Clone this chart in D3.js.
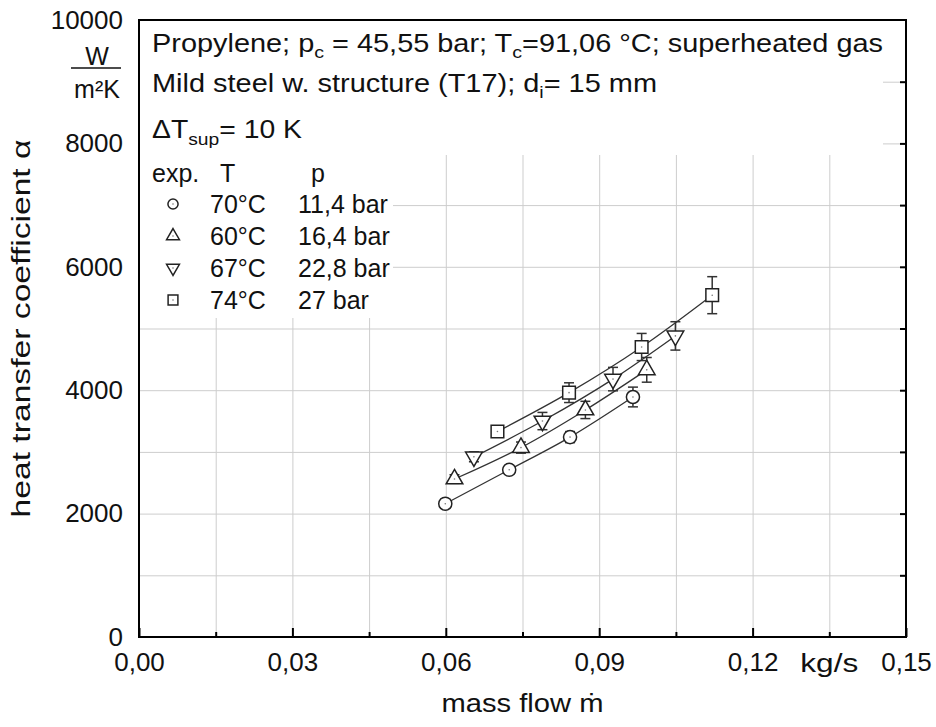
<!DOCTYPE html>
<html>
<head>
<meta charset="utf-8">
<script src="https://cdn.jsdelivr.net/npm/d3@7"></script>
<style>
  body { margin: 0; background: #fff; }
  svg { font-family: Arial, "Liberation Sans", sans-serif; }
</style>
</head>
<body>
<script>
// values
var xTicks = [0, 0.03, 0.06, 0.09, 0.12, 0.15];
var yTicks = [0, 2000, 4000, 6000, 8000, 10000];

var temps = ["70°C", "60°C", "67°C", "74°C"];
var pressures = ["11,4 bar", "16,4 bar", "22,8 bar", "27 bar"];
var symbols = ["circle", "up", "down", "square"];

var flow70 = [0.0599, 0.0724, 0.0843, 0.0966];
var alpha70 = [2160, 2710, 3240, 3890];
var err70 = [70, 70, 90, 160];

var flow60 = [0.0617, 0.0747, 0.0873, 0.0993];
var alpha60 = [2560, 3070, 3680, 4330];
var err60 = [70, 90, 140, 200];

var flow67 = [0.0655, 0.0789, 0.0927, 0.1049];
var alpha67 = [2920, 3500, 4180, 4880];
var err67 = [80, 140, 190, 230];

var flow74 = [0.0701, 0.0841, 0.0983, 0.1121];
var alpha74 = [3330, 3960, 4700, 5540];
var err74 = [90, 160, 220, 300];

var width = 936, height = 727;
var pLeft = 139, pRight = 906, pTop = 20, pBottom = 637;
var ink = "#111";

var x = d3.scaleLinear().domain([0, 0.15]).range([pLeft, pRight]);
var y = d3.scaleLinear().domain([0, 10000]).range([pBottom, pTop]);

var svg = d3.select("body").append("svg")
  .attr("width", width)
  .attr("height", height);

// grid
var xGrid = d3.range(1, 10).map(function(i) { return i * 0.015; });
var yGrid = d3.range(1, 10).map(function(i) { return i * 1000; });

svg.append("g")
  .attr("transform", "translate(0," + pBottom + ")")
  .call(d3.axisBottom(x).tickValues(xGrid).tickSize(-(pBottom - pTop)).tickFormat(""))
  .call(function(g) {
    g.select(".domain").remove();
    g.selectAll("line").attr("stroke", "#cdcdcd").attr("stroke-width", 1);
  });

svg.append("g")
  .attr("transform", "translate(" + pLeft + ",0)")
  .call(d3.axisLeft(y).tickValues(yGrid).tickSize(-(pRight - pLeft)).tickFormat(""))
  .call(function(g) {
    g.select(".domain").remove();
    g.selectAll("line").attr("stroke", "#cdcdcd").attr("stroke-width", 1);
  });

// white boxes behind the text blocks
svg.append("rect").attr("x", pLeft + 1).attr("y", pTop + 1)
  .attr("width", 743).attr("height", 134).attr("fill", "#fff");
svg.append("rect").attr("x", pLeft + 1).attr("y", 150)
  .attr("width", 253).attr("height", 168).attr("fill", "#fff");

// bottom axis, ticks inside
var fmt = function(d) { return d.toFixed(2).replace(".", ","); };
var xMinor = xGrid.filter(function(d, i) { return i % 2 == 0; });

svg.append("g")
  .attr("transform", "translate(0," + pBottom + ")")
  .call(d3.axisBottom(x).tickValues(xMinor).tickSize(-5).tickFormat(""))
  .call(function(g) {
    g.select(".domain").remove();
    g.selectAll("line").attr("stroke", "#000").attr("stroke-width", 2);
  });

var xAxis = svg.append("g")
  .attr("transform", "translate(0," + pBottom + ")")
  .call(d3.axisBottom(x).tickValues(xTicks).tickSize(-9).tickPadding(16).tickFormat(fmt));
xAxis.select(".domain").remove();
xAxis.selectAll("line").attr("stroke", "#000").attr("stroke-width", 2);
xAxis.selectAll("text").attr("font-size", 26).attr("fill", ink)
  .attr("font-family", "Arial, 'Liberation Sans', sans-serif");

// left axis labels
var yAxis = svg.append("g")
  .attr("transform", "translate(" + pLeft + ",0)")
  .call(d3.axisLeft(y).tickValues(yTicks).tickSize(0).tickPadding(16).tickFormat(d3.format("d")));
yAxis.select(".domain").remove();
yAxis.selectAll("text").attr("font-size", 26).attr("fill", ink)
  .attr("font-family", "Arial, 'Liberation Sans', sans-serif");

// right axis ticks inside
svg.append("g")
  .attr("transform", "translate(" + pRight + ",0)")
  .call(d3.axisRight(y).tickValues(yGrid).tickSize(-6).tickFormat(""))
  .call(function(g) {
    g.select(".domain").remove();
    g.selectAll("line").attr("stroke", "#000").attr("stroke-width", 2);
  });

// frame
svg.append("rect")
  .attr("x", pLeft).attr("y", pTop)
  .attr("width", pRight - pLeft).attr("height", pBottom - pTop)
  .attr("fill", "none").attr("stroke", "#000").attr("stroke-width", 2);

// unit
svg.append("text").attr("x", 97).attr("y", 65).attr("text-anchor", "middle")
  .attr("font-size", 25).attr("fill", ink).text("W");
svg.append("line").attr("x1", 71).attr("x2", 121).attr("y1", 68).attr("y2", 68)
  .attr("stroke", ink).attr("stroke-width", 1.5);
svg.append("text").attr("x", 97).attr("y", 98).attr("text-anchor", "middle")
  .attr("font-size", 25).attr("fill", ink).text("m²K");

svg.append("text").attr("x", x(0.135)).attr("y", 672).attr("text-anchor", "middle")
  .attr("font-size", 26).attr("textLength", 58).attr("lengthAdjust", "spacingAndGlyphs")
  .attr("fill", ink).text("kg/s");

// axis titles
svg.append("text").attr("x", (pLeft + pRight) / 2).attr("y", 712).attr("text-anchor", "middle")
  .attr("font-size", 25).attr("textLength", 162).attr("lengthAdjust", "spacingAndGlyphs")
  .attr("fill", ink).text("mass flow ṁ");
svg.append("text")
  .attr("transform", "translate(30," + ((pTop + pBottom) / 2) + ") rotate(-90)")
  .attr("text-anchor", "middle")
  .attr("font-size", 26).attr("textLength", 378).attr("lengthAdjust", "spacingAndGlyphs")
  .attr("fill", ink).text("heat transfer coefficient α");

// header text
var head = svg.append("g").attr("font-size", 25).attr("fill", ink);
var t1 = head.append("text").attr("x", 152).attr("y", 52)
  .attr("textLength", 731).attr("lengthAdjust", "spacingAndGlyphs");
t1.append("tspan").text("Propylene; p");
t1.append("tspan").attr("dy", 6).attr("font-size", 17).text("c");
t1.append("tspan").attr("dy", -6).text(" = 45,55 bar; T");
t1.append("tspan").attr("dy", 6).attr("font-size", 17).text("c");
t1.append("tspan").attr("dy", -6).text("=91,06 °C; superheated gas");

var t2 = head.append("text").attr("x", 152).attr("y", 92)
  .attr("textLength", 505).attr("lengthAdjust", "spacingAndGlyphs");
t2.append("tspan").text("Mild steel w. structure (T17); d");
t2.append("tspan").attr("dy", 6).attr("font-size", 17).text("i");
t2.append("tspan").attr("dy", -6).text("= 15 mm");

var t3 = head.append("text").attr("x", 152).attr("y", 138)
  .attr("textLength", 150).attr("lengthAdjust", "spacingAndGlyphs");
t3.append("tspan").text("ΔT");
t3.append("tspan").attr("dy", 7).attr("font-size", 17).text("sup");
t3.append("tspan").attr("dy", -7).text("= 10 K");

head.append("text").attr("x", 152).attr("y", 182).text("exp.");
head.append("text").attr("x", 220).attr("y", 182).text("T");
head.append("text").attr("x", 311).attr("y", 182).text("p");

// markers
function symbolPath(kind, big) {
  var s = big ? 1 : 0.6;
  if (kind == "circle") return d3.symbol(d3.symbolCircle, 135 * s)();
  if (kind == "square") return d3.symbol(d3.symbolSquare, 160 * s)();
  return d3.symbol(d3.symbolTriangle, 120 * s)();
}
function drawMarker(g, kind, cx, cy, big) {
  var rot = kind == "down" ? " rotate(180)" : "";
  g.append("path")
    .attr("d", symbolPath(kind, big))
    .attr("transform", "translate(" + cx + "," + cy + ")" + rot)
    .attr("fill", "#fff").attr("stroke", "#222").attr("stroke-width", 1.5);
  g.append("circle").attr("cx", cx).attr("cy", cy).attr("r", 0.8).attr("fill", "#777");
}

// legend rows
var legendY = [213, 245, 277, 309];
temps.forEach(function(t, i) {
  drawMarker(svg, symbols[i], 173, legendY[i] - 9, false);
  head.append("text").attr("x", 210).attr("y", legendY[i]).text(t);
  head.append("text").attr("x", 298).attr("y", legendY[i]).text(pressures[i]);
});

// data
var sets = [
  { flow: flow70, alpha: alpha70, err: err70, sym: "circle" },
  { flow: flow60, alpha: alpha60, err: err60, sym: "up" },
  { flow: flow67, alpha: alpha67, err: err67, sym: "down" },
  { flow: flow74, alpha: alpha74, err: err74, sym: "square" }
];

var line = d3.line()
  .x(function(d) { return x(d[0]); })
  .y(function(d) { return y(d[1]); })
  .curve(d3.curveMonotoneX);

sets.forEach(function(s) {
  var pts = s.flow.map(function(f, i) { return [f, s.alpha[i], s.err[i]]; });
  svg.append("path").datum(pts).attr("d", line)
    .attr("fill", "none").attr("stroke", "#333").attr("stroke-width", 1.3);

  var eb = svg.append("g").attr("stroke", "#333").attr("stroke-width", 1.5);
  pts.forEach(function(p) {
    eb.append("line").attr("x1", x(p[0])).attr("x2", x(p[0]))
      .attr("y1", y(p[1] - p[2])).attr("y2", y(p[1] + p[2]));
    [p[1] - p[2], p[1] + p[2]].forEach(function(v) {
      eb.append("line").attr("x1", x(p[0]) - 5).attr("x2", x(p[0]) + 5)
        .attr("y1", y(v)).attr("y2", y(v));
    });
  });

  var mg = svg.append("g");
  pts.forEach(function(p) {
    drawMarker(mg, s.sym, x(p[0]), y(p[1]), true);
  });
});
</script>
</body>
</html>
